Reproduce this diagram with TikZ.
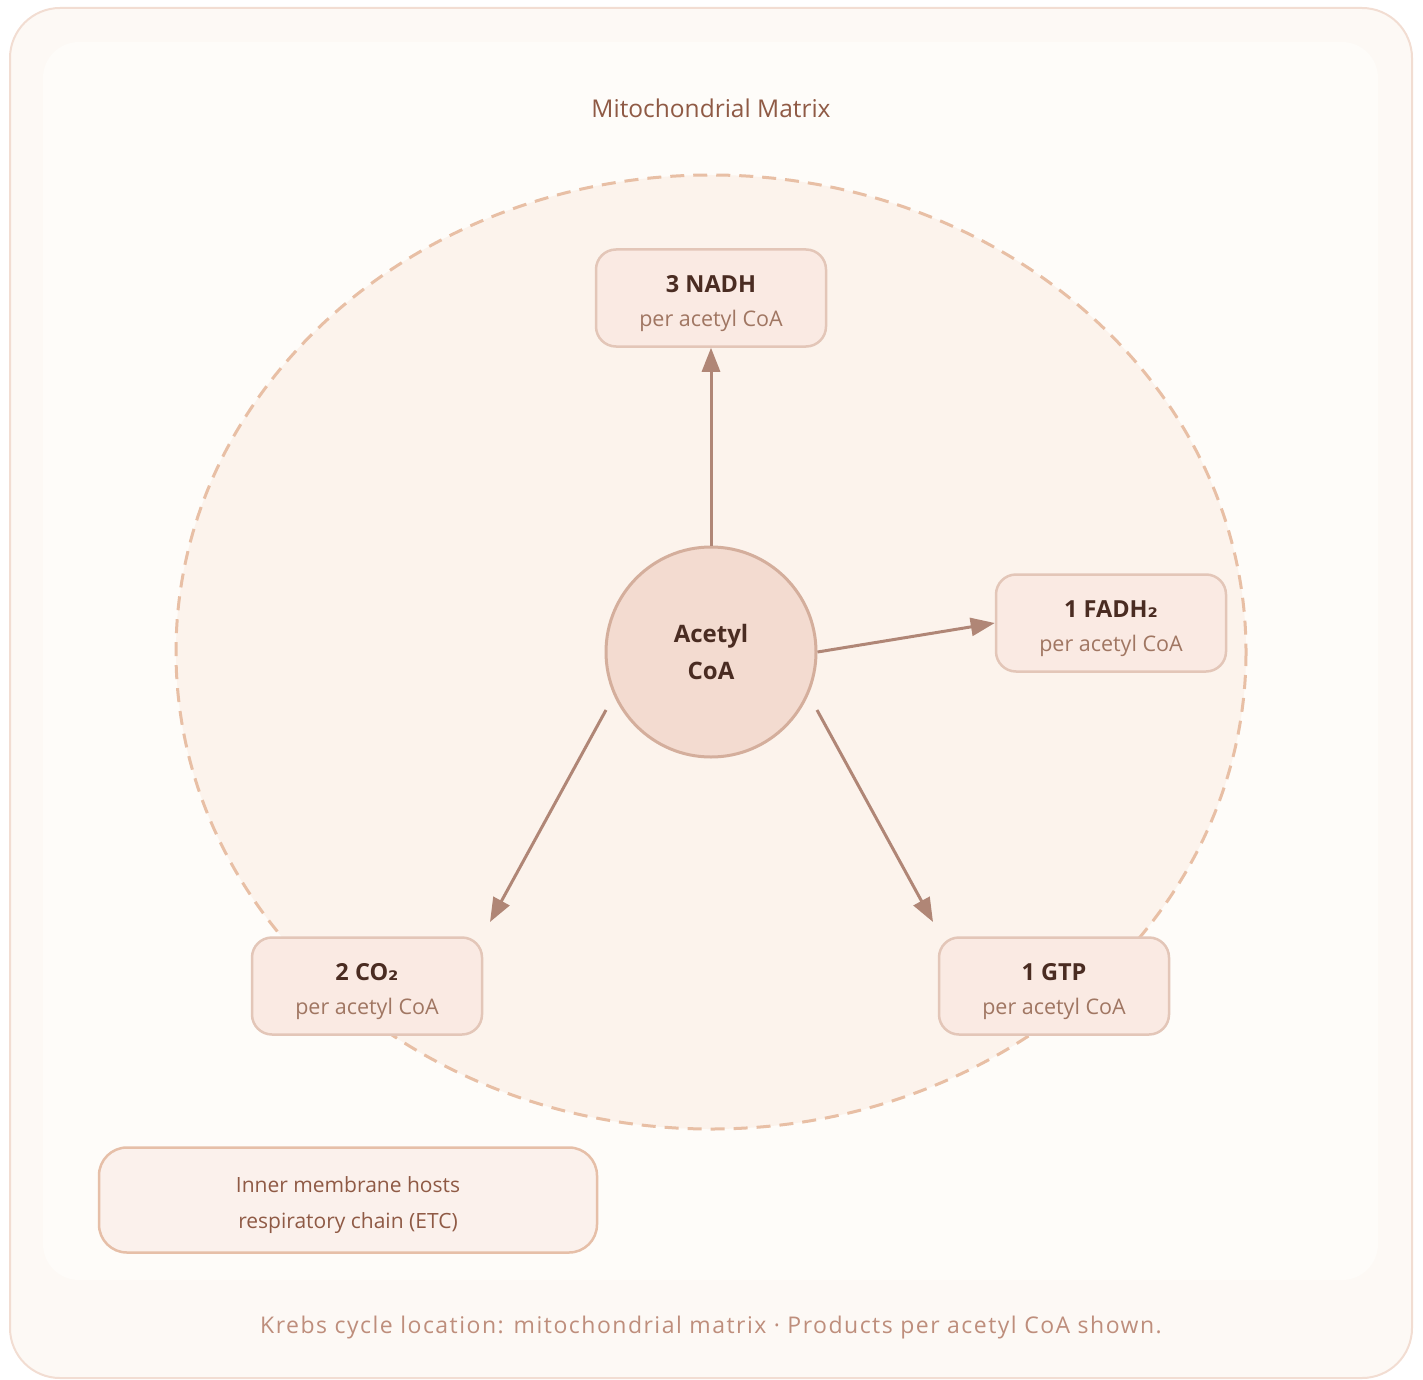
\documentclass[tikz,border=0pt]{standalone}
\usepackage{fontspec}
\setmainfont{Open Sans}
\newfontfamily\subsfont{DejaVu Sans}
\usepackage{tikz}
\usetikzlibrary{arrows.meta}
\definecolor{krebs-frame}{RGB}{242, 221, 210}
\definecolor{krebs-page}{RGB}{253, 249, 245}
\definecolor{krebs-panel}{RGB}{254, 252, 249}
\definecolor{krebs-matrix}{RGB}{252, 243, 236}
\definecolor{krebs-dash}{RGB}{232, 191, 165}
\definecolor{krebs-core}{RGB}{243, 219, 208}
\definecolor{krebs-coreline}{RGB}{212, 174, 156}
\definecolor{krebs-box}{RGB}{250, 234, 227}
\definecolor{krebs-boxline}{RGB}{227, 198, 184}
\definecolor{krebs-note}{RGB}{251, 241, 236}
\definecolor{krebs-noteline}{RGB}{230, 191, 168}
\definecolor{krebs-arrow}{RGB}{176, 134, 118}
\definecolor{krebs-dark}{RGB}{74, 44, 34}
\definecolor{krebs-sub}{RGB}{160, 118, 98}
\definecolor{krebs-title}{RGB}{143, 90, 69}
\definecolor{krebs-foot}{RGB}{190, 142, 124}

\tikzset{
  product/.style={draw=krebs-boxline, fill=krebs-box, line width=2.5pt,
    rounded corners=20pt, minimum width=230pt, minimum height=97pt,
    align=center, text=krebs-dark, font=\fontsize{23.5}{34}\selectfont\bfseries},
  flow/.style={draw=krebs-arrow, line width=3pt, -{Triangle[length=24pt, width=18pt]}}
}
\newcommand{\yield}[1]{\rule{0pt}{28pt}#1\\{\fontsize{21.5}{34}\selectfont\mdseries\color{krebs-sub}per acetyl CoA}}
\newcommand{\subtwo}{{\subsfont\bfseries ₂}}

\begin{document}
\begin{tikzpicture}[x=1pt, y=-1pt]
  \useasboundingbox (0,0) rectangle (1423,1380);

  % frame and panel
  \draw[draw=krebs-frame, fill=krebs-page, line width=2pt, rounded corners=50pt]
    (10,8) rectangle (1412,1378);
  \fill[krebs-panel, rounded corners=36pt] (43,42) rectangle (1378,1280);
  \node[text=krebs-title, font=\fontsize{24.5}{28}\selectfont] (title) at (711,108) {Mitochondrial Matrix};

  % matrix
  \draw[draw=krebs-dash, fill=krebs-matrix, line width=3pt, dash pattern=on 14pt off 9pt]
    (711,652) ellipse [x radius=535, y radius=477];

  \node[circle, draw=krebs-coreline, fill=krebs-core, line width=3pt, minimum size=210pt,
    align=center, text=krebs-dark, font=\fontsize{24}{37}\selectfont\bfseries]
    (acetyl) at (711,652) {Acetyl\\CoA};

  \node[product] (nadh) at (711,298) {\yield{3 NADH}};
  \node[product] (fadh) at (1111,623) {\yield{1 FADH\subtwo}};
  \node[product] (co2) at (367,986) {\yield{2 CO\subtwo}};
  \node[product] (gtp) at (1054,986) {\yield{1 GTP}};

  \coordinate (co2-out) at (606,710);
  \coordinate (co2-in) at (490,922);
  \coordinate (gtp-out) at (817,710);
  \coordinate (gtp-in) at (933,922);

  \draw[flow] (acetyl) -- (nadh);
  \draw[flow] (acetyl.east) -- (fadh.west);
  \draw[flow] (co2-out) -- (co2-in);
  \draw[flow] (gtp-out) -- (gtp-in);

  % note and footer
  \node[draw=krebs-noteline, fill=krebs-note, line width=2.5pt, rounded corners=28pt,
    minimum width=498pt, minimum height=105pt, align=center, text=krebs-title,
    font=\fontsize{21}{36}\selectfont]
    (note) at (348,1200) {\rule{0pt}{26pt}Inner membrane hosts\\respiratory chain (ETC)};
  \node[text=krebs-foot, font=\fontsize{23}{28}\selectfont\addfontfeatures{LetterSpace=6.5}]
    (footer) at (711,1328)
    {Krebs cycle location: mitochondrial matrix · Products per acetyl CoA shown.};
\end{tikzpicture}
\end{document}
